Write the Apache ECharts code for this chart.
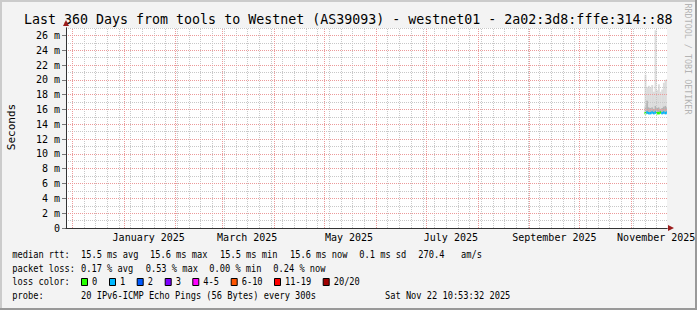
<!DOCTYPE html>
<html><head><meta charset="utf-8">
<script src="https://cdn.jsdelivr.net/npm/echarts@6/dist/echarts.min.js"></script>
<style>html,body{margin:0;padding:0;background:#f3f3f3}#c{width:697px;height:310px}</style>
</head><body><div id="c"></div>
<script>
// ---------- data ----------
const titleText = 'Last 360 Days from tools to Westnet (AS39093) - westnet01 - 2a02:3d8:fffe:314::88';
const startTime = '2024-11-27T10:53:32Z';
const endTime = '2025-11-22T10:53:32Z';

const dayDates   = ['2025-11-09','2025-11-10','2025-11-11','2025-11-12','2025-11-13','2025-11-14','2025-11-15',
                    '2025-11-16','2025-11-17','2025-11-18','2025-11-19','2025-11-20','2025-11-21','2025-11-22'];
const pingMin    = [15.4, 15.4, 15.4, 15.4, 15.5, 15.4, 15.4, 15.4, 15.4, 15.5, 15.4, 15.4, 15.4, 15.5];
const pingMedian = [15.5, 15.6, 15.5, 15.5, 15.6, 15.5, 15.6, 15.5, 15.5, 15.6, 15.5, 15.6, 15.5, 15.6];
const smokeInner = [16.4, 17.2, 16.3, 16.2, 16.3, 16.1, 16.5, 16.2, 16.3, 16.1, 16.2, 16.4, 16.5, 16.3];
const pingMax    = [20.7, 19.0, 19.2, 18.9, 19.3, 18.4, 26.7, 18.6, 19.4, 18.4, 18.7, 19.6, 20.0, 20.1];
const lossCount  = [0, 1, 1, 1, 1, 1, 1, 0, 0, 0, 1, 1, 1, 1];

const yMax = 27;
const yMajor = 2;
const yMinor = 1;

const monthStarts = ['2024-12-01','2025-01-01','2025-02-01','2025-03-01','2025-04-01','2025-05-01',
                     '2025-06-01','2025-07-01','2025-08-01','2025-09-01','2025-10-01','2025-11-01'];
const monthLabelTexts = ['January 2025','March 2025','May 2025','July 2025','September 2025','November 2025'];
const monthLabelDates = ['2025-01-16','2025-03-16','2025-05-16','2025-07-16','2025-09-16','2025-11-16'];
const firstWeekLine = '2024-12-01';

const lossLabels = ['0','1','2','3','4-5','6-10','11-19','20/20'];
const lossUpper  = [0, 1, 2, 3, 5, 10, 19, 20];
const lossColors = ['#26ff00','#00b8ff','#0059ff','#7e00ff','#ff00ff','#ff5500','#ff0000','#a10000'];

const statRtt  = [['median rtt:',12.3],['15.5 ms avg',81],['15.6 ms max',150],['15.5 ms min',220],
                  ['15.6 ms now',290],['0.1 ms sd',359.3],['270.4',418.3],['am/s',461]];
const statLoss = [['packet loss:',12.3],['0.17 % avg',81],['0.53 % max',145.7],['0.00 % min',209.3],['0.24 % now',273.3]];
const probeRow = [['probe:',12.3],['20 IPv6-ICMP Echo Pings (56 Bytes) every 300s',81],['Sat Nov 22 10:53:32 2025',385]];
const swatchX  = [81, 109, 136.7, 164.7, 192.3, 230.7, 274, 322.7];

// ---------- build ----------
const t = s => new Date(s.length === 10 ? s + 'T00:00:00Z' : s).getTime();
const T0 = t(startTime), T1 = t(endTime);
const DAY = 86400000;

const weekLines = [];
for (let w = t(firstWeekLine); w < T1; w += 7 * DAY) weekLines.push(w);

const smokeData = dayDates.map((d, i) => [
  t(d), i + 1 < dayDates.length ? t(dayDates[i + 1]) : T1,
  pingMin[i], pingMedian[i], smokeInner[i], pingMax[i], lossCount[i]
]);

function lossColor(n) {
  for (let k = 0; k < lossUpper.length; k++) if (n <= lossUpper[k]) return lossColors[k];
  return lossColors[lossColors.length - 1];
}

const MONO = '"DejaVu Sans Mono", "Liberation Mono", monospace';
const gridColorMinor = '#c8c8c8';
const gridColorMajor = '#ec9a9a';
const arrowColor = '#9b1c1c';

const graphics = [
  {type:'rect', shape:{x:0,y:0,width:697,height:2}, style:{fill:'#cbcbcb'}, silent:true},
  {type:'rect', shape:{x:0,y:0,width:2,height:310}, style:{fill:'#cbcbcb'}, silent:true},
  {type:'rect', shape:{x:0,y:308,width:697,height:2}, style:{fill:'#999999'}, silent:true},
  {type:'rect', shape:{x:695,y:0,width:2,height:310}, style:{fill:'#999999'}, silent:true},
  {type:'text', x:24, y:19, style:{text:titleText, fontFamily:MONO, fontSize:13.3, fill:'#000', verticalAlign:'middle'}},
  {type:'text', x:11, y:127, rotation:Math.PI/2, style:{text:'Seconds', fontFamily:MONO, fontSize:11, fill:'#000', align:'center', verticalAlign:'middle'}},
  {type:'text', x:688, y:59, rotation:-Math.PI/2, style:{text:'RRDTOOL / TOBI OETIKER', fontFamily:MONO, fontSize:8.4, fill:'#b4b4b4', align:'center', verticalAlign:'middle'}}
];
const legendFont = 9.6;
const legendScaleX = 0.905;
function addText(txt, x, y) {
  graphics.push({type:'text', x, y, scaleX:legendScaleX,
    style:{text:txt, fontFamily:MONO, fontSize:legendFont, fill:'#000', verticalAlign:'middle'}});
}
function addRow(items, y) { items.forEach(([txt, x]) => addText(txt, x, y)); }
addRow(statRtt, 255);
addRow(statLoss, 268.5);
addRow([['loss color:',12.3]], 282);
lossLabels.forEach((lab, k) => {
  graphics.push({type:'rect', shape:{x:swatchX[k] + 0.5, y:278.5, width:6, height:7},
    style:{fill:lossColors[k], stroke:'#000', lineWidth:1}});
  addText(lab, swatchX[k] + 11, 282);
});
addRow(probeRow, 295.5);

function vLineSeries(name, values, color, z) {
  return {type:'custom', name, xAxisIndex:0, yAxisIndex:0, z, silent:true, clip:false,
    encode:{x:0, y:1}, data:values.map(v => [v, 0]),
    renderItem:(p, api) => {
      const a = api.coord([api.value(0), 0]);
      const b = api.coord([api.value(0), yMax]);
      const x = Math.round(a[0]) + 0.5;
      return {type:'line', z2:10, shape:{x1:x, y1:a[1], x2:x, y2:b[1]},
        style:{stroke:color, lineWidth:1, lineDash:[1,1], fill:null}};
    }};
}

const chart = echarts.init(document.getElementById('c'), null, {renderer:'svg', width:697, height:310});
chart.setOption({
  animation:false,
  backgroundColor:'#f3f3f3',
  grid:{left:66, top:28, width:601, height:200, show:true, backgroundColor:'#ffffff', borderWidth:0},
  xAxis:[
    {type:'time', min:T0, max:T1, z:6,
     axisLine:{show:true, lineStyle:{color:'#333', width:1}},
     axisTick:{show:false}, axisLabel:{show:false}, splitLine:{show:false}},
    {type:'time', min:T0, max:T1, z:3, position:'bottom',
     axisLine:{show:true, onZero:false, symbol:['none','triangle'], symbolSize:[6,6], symbolOffset:[0,4], lineStyle:{color:arrowColor, width:1}},
     axisTick:{show:false}, axisLabel:{show:false}, splitLine:{show:false}}
  ],
  yAxis:[
    {type:'value', min:0, max:yMax, interval:yMajor, z:4, position:'left',
     axisLine:{show:true, lineStyle:{color:'#333', width:1}},
     axisTick:{show:true, length:4, lineStyle:{color:'#777'}},
     axisLabel:{margin:6, showMaxLabel:false, fontFamily:MONO, fontSize:10, color:'#000',
       formatter:v => v === 0 ? '0' : v + ' m'},
     splitLine:{show:true, showMaxLine:false, showMinLine:false, lineStyle:{color:gridColorMajor, type:[1,1], width:1}}},
    {type:'value', min:0, max:yMax, interval:yMinor, z:3, position:'left',
     axisLine:{show:true, onZero:false, symbol:['none','triangle'], symbolSize:[6,6], symbolOffset:[0,5], lineStyle:{color:arrowColor, width:1}},
     axisTick:{show:false}, axisLabel:{show:false},
     splitLine:{show:true, showMinLine:false, lineStyle:{color:gridColorMinor, type:[1,1], width:1}}}
  ],
  series:[
    {type:'custom', name:'smoke', xAxisIndex:0, yAxisIndex:0, z:2, clip:true,
     encode:{x:[0,1], y:[2,5]},
     data:smokeData,
     renderItem:(params, api) => {
       const a = api.value(0), b = api.value(1);
       const pMaxA = api.coord([a, api.value(5)]);
       const pMaxB = api.coord([b, api.value(5)]);
       const pIn = api.coord([a, api.value(4)]);
       const pMin = api.coord([a, api.value(2)]);
       const pMed = api.coord([a, api.value(3)]);
       const x = pMaxA[0], w = pMaxB[0] - pMaxA[0] + 0.3;
       return {type:'group', children:[
         {type:'rect', shape:{x, y:pMaxA[1], width:w, height:pIn[1] - pMaxA[1]}, style:{fill:'#dcdcdc'}},
         {type:'rect', shape:{x, y:pIn[1], width:w, height:pMin[1] - pIn[1]}, style:{fill:'#b2b2b2'}},
         {type:'rect', shape:{x, y:pMed[1] - 1.2, width:w, height:2.4}, style:{fill:lossColor(api.value(6))}}
       ]};
     }},
    vLineSeries('weekGrid', weekLines, gridColorMinor, 3),
    vLineSeries('monthGrid', monthStarts.map(d => t(d)), gridColorMajor, 4),
    {type:'custom', name:'monthLabels', xAxisIndex:0, yAxisIndex:0, z:5, silent:true, clip:false,
     encode:{x:0, y:1}, data:monthLabelDates.map(d => [t(d), 0]),
     renderItem:(p, api) => {
       const a = api.coord([api.value(0), 0]);
       return {type:'text', x:a[0], y:a[1] + 4.5,
         style:{text:monthLabelTexts[p.dataIndex], fontFamily:MONO, fontSize:10, fill:'#000', align:'center', verticalAlign:'top'}};
     }}
  ],
  graphic:graphics
});
</script>
</body></html>
